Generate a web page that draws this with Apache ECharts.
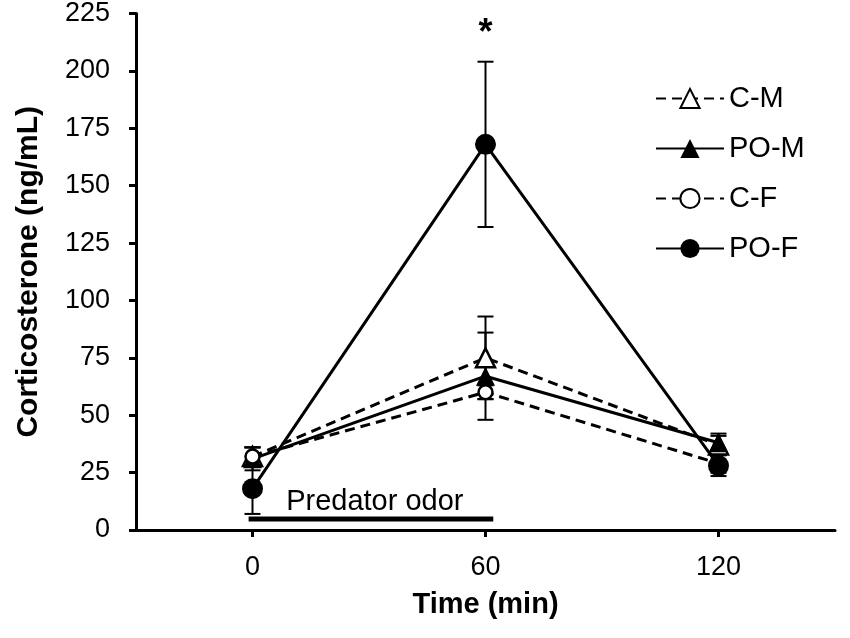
<!DOCTYPE html>
<html><head><meta charset="utf-8">
<script src="https://cdn.jsdelivr.net/npm/echarts@6/dist/echarts.min.js"></script>
<style>html,body{margin:0;padding:0;background:#fff}#c{width:850px;height:638px}</style>
</head><body><div id="c"></div>
<script>
const times = [0, 60, 120];
const xTicks = [0, 60, 120];
const cm = [32, 75, 37];
const cmErr = [4, 18, 4];
const pom = [31, 67, 38];
const pomErr = [5, 19, 4];
const cf = [32, 60, 29];
const cfErr = [4, 3, 4];
const pof = [18, 168, 28];
const pofErr = [11, 36, 4.5];
const odorBar = [[-1, 4.8], [62, 4.8]];
const odorText = [[31.5, 12, 'Predator odor']];
const stars = [[60, 216, '*']];

const FONT = '"Liberation Sans", Arial, Helvetica, sans-serif';
const chart = echarts.init(document.getElementById('c'), null, {renderer: 'canvas'});

function pts(vals) { return times.map((t, i) => [t, vals[i]]); }
function errs(vals, e) { return times.map((t, i) => [t, vals[i], e[i]]); }

function errSeries(vals, e) {
  return {
    type: 'custom', silent: true, z: 1,
    data: errs(vals, e),
    renderItem: function (params, api) {
      const x = api.value(0), y = api.value(1), d = api.value(2);
      const top = api.coord([x, y + d]);
      const bot = api.coord([x, y - d]);
      const hw = 8;
      const st = {stroke: '#000', lineWidth: 2};
      return {type: 'group', children: [
        {type: 'line', shape: {x1: top[0], y1: top[1], x2: bot[0], y2: bot[1]}, style: st},
        {type: 'line', shape: {x1: top[0] - hw, y1: top[1], x2: top[0] + hw, y2: top[1]}, style: st},
        {type: 'line', shape: {x1: bot[0] - hw, y1: bot[1], x2: bot[0] + hw, y2: bot[1]}, style: st}
      ]};
    }
  };
}

function lineSeries(name, vals, dashed, symbol, size, filled, z) {
  return {
    name: name, type: 'line', data: pts(vals), z: z,
    symbol: symbol, symbolSize: size, showAllSymbol: true,
    lineStyle: {color: '#000', width: 3, type: dashed ? [10, 6] : 'solid'},
    itemStyle: {color: filled ? '#000' : '#fff', borderColor: '#000', borderWidth: filled ? 0 : 2.5, opacity: 1},
    emphasis: {disabled: true}
  };
}

chart.setOption({
  animation: false,
  backgroundColor: '#fff',
  grid: {left: 136, right: 15, top: 13, bottom: 108, containLabel: false},
  legend: {
    orient: 'vertical', left: 650, top: 79, itemWidth: 68, itemHeight: 24, itemGap: 21,
    data: ['C-M', 'PO-M', 'C-F', 'PO-F'],
    textStyle: {fontFamily: FONT, fontSize: 29, color: '#000', padding: [0, 0, 0, 0]}
  },
  xAxis: {
    type: 'value', min: -30, max: 150,
    name: 'Time (min)', nameLocation: 'middle', nameGap: 60,
    nameTextStyle: {fontFamily: FONT, fontSize: 29, fontWeight: 'bold', color: '#000'},
    axisLine: {onZero: false, lineStyle: {color: '#000', width: 3}},
    axisTick: {show: true, length: 7, lineStyle: {color: '#000', width: 3}, customValues: xTicks},
    axisLabel: {fontFamily: FONT, fontSize: 27, color: '#000', margin: 24, customValues: xTicks},
    splitLine: {show: false}
  },
  yAxis: {
    type: 'value', min: 0, max: 225, interval: 25,
    name: 'Corticosterone (ng/mL)', nameLocation: 'middle', nameGap: 92, nameRotate: 90,
    nameTextStyle: {fontFamily: FONT, fontSize: 30, fontWeight: 'bold', color: '#000'},
    axisLine: {show: true, onZero: false, lineStyle: {color: '#000', width: 3}},
    axisTick: {show: true, length: 7, lineStyle: {color: '#000', width: 3}},
    axisLabel: {fontFamily: FONT, fontSize: 27, color: '#000', margin: 26},
    splitLine: {show: false}
  },
  series: [
    errSeries(cm, cmErr), errSeries(pom, pomErr), errSeries(cf, cfErr), errSeries(pof, pofErr),
    lineSeries('C-M', cm, true, 'triangle', 19, false, 3),
    lineSeries('PO-M', pom, false, 'triangle', 19, true, 4),
    lineSeries('C-F', cf, true, 'circle', 14, false, 5),
    lineSeries('PO-F', pof, false, 'circle', 21, true, 6),
    {
      type: 'line', data: odorBar, symbol: 'none', silent: true, z: 2,
      lineStyle: {color: '#000', width: 5}
    },
    {
      type: 'scatter', data: odorText, symbolSize: 0, silent: true, z: 2,
      itemStyle: {opacity: 1},
      label: {show: true, position: 'inside', formatter: p => p.value[2],
        fontFamily: FONT, fontSize: 29, color: '#000'}
    },
    {
      type: 'scatter', data: stars, symbolSize: 0, silent: true, z: 2,
      itemStyle: {opacity: 1},
      label: {show: true, position: 'inside', formatter: p => p.value[2],
        fontFamily: FONT, fontSize: 36, fontWeight: 'bold', color: '#000'}
    }
  ]
});
</script></body></html>
